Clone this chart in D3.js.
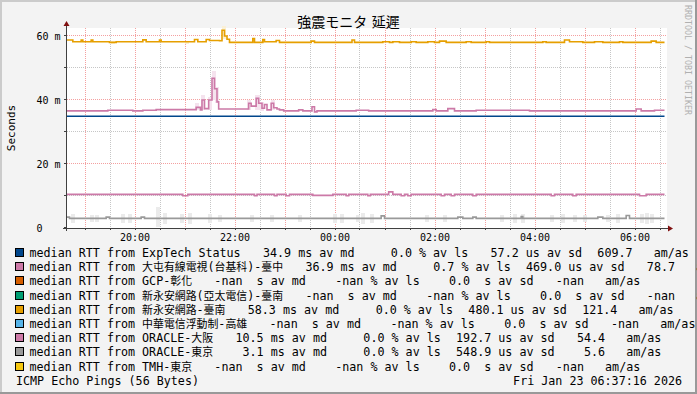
<!DOCTYPE html>
<html>
<head>
<meta charset="utf-8">
<script src="https://cdn.jsdelivr.net/npm/d3@7"></script>
<style>
  body { margin: 0; background: #F3F3F3; }
  svg text { white-space: pre; }
</style>
</head>
<body>
<div id="chart"></div>
<script>
// ---- data ----
const chartTitle = "強震モニタ 延遲";
const yTitle = "Seconds";
const footLeft = "ICMP Echo Pings (56 Bytes)";
const footRight = "Fri Jan 23 06:37:16 2026";
const watermark = "RRDTOOL / TOBI OETIKER";

const timeStart = "18:39";
const timeEnd = "06:39";
const lastSample = "06:36";

const yTicks = [0, 20, 40, 60];
const yTickLabels = ["0   ", "20 m", "40 m", "60 m"];
const yMinorTicks = [10, 30, 50];
const xTickLabels = ["20:00", "22:00", "00:00", "02:00", "04:00", "06:00"];

const hosts = ["ExpTech Status", "大屯有線電視(台基科)-臺中", "GCP-彰化", "新永安網路(亞太電信)-臺南",
  "新永安網路-臺南", "中華電信浮動制-高雄", "ORACLE-大阪", "ORACLE-東京", "TMH-東京"];
const hostColors = ["#00468B", "#CC79A7", "#D55E00", "#009E73", "#E69F00", "#56B4E9", "#CC79A7", "#999999", "#F5C710"];
const avgMedian = [34.9, 36.9, NaN, NaN, 58.3, NaN, 10.5, 3.1, NaN];   // ms
const avgLoss = [0.0, 0.7, NaN, NaN, 0.0, NaN, 0.0, 0.0, NaN];         // %
const avgSdev = [57.2, 469.0, 0, 0, 480.1, 0, 192.7, 548.9, 0];         // us
const avgAmAs = [609.7, 78.7, NaN, NaN, 121.4, NaN, 54.4, 5.6, NaN];

// median RTT step series [clock, ms]
const expTechSteps = [["18:39", 34.9]];
const daitunSteps = [
  ["18:39", 36.6], ["19:28", 36.8], ["19:58", 36.6], ["20:10", 36.8], ["20:26", 37.0], ["21:14", 37.7],
  ["21:19", 36.9], ["21:21", 40.0], ["21:24", 37.3], ["21:29", 40.0], ["21:33", 46.8], ["21:36", 43.5],
  ["21:39", 39.4], ["21:41", 37.2], ["22:17", 39.0], ["22:20", 38.1], ["22:26", 40.5], ["22:29", 39.0],
  ["22:33", 37.4], ["22:36", 38.6], ["22:39", 36.9], ["22:44", 39.0], ["22:47", 37.6], ["22:51", 37.2],
  ["22:54", 36.9], ["22:59", 36.6], ["23:17", 36.9], ["23:22", 36.6], ["23:33", 37.9], ["23:36", 36.3],
  ["23:39", 36.6], ["00:26", 36.8], ["00:41", 36.6], ["01:58", 37.0], ["02:02", 36.6], ["02:16", 37.3],
  ["02:24", 36.6], ["02:50", 36.8], ["03:54", 36.6], ["06:02", 37.2], ["06:08", 36.6], ["06:24", 36.8]
];
const yongAnTainanSteps = [
  ["18:39", 58.75], ["18:46", 58.2], ["18:56", 58.7], ["18:58", 58.2], ["19:08", 58.7], ["19:10", 58.2],
  ["19:30", 58.0], ["19:38", 58.2], ["20:10", 58.8], ["20:14", 58.2], ["20:30", 58.7], ["20:32", 58.2],
  ["21:12", 58.9], ["21:16", 58.2], ["21:26", 58.9], ["21:30", 58.6], ["21:42", 58.5], ["21:45", 61.8],
  ["21:48", 60.0], ["21:51", 59.0], ["21:54", 58.0], ["22:22", 59.2], ["22:24", 58.0], ["22:34", 58.9],
  ["22:36", 58.2], ["22:50", 58.6], ["22:54", 58.0], ["23:32", 58.4], ["23:36", 58.0], ["00:21", 58.75],
  ["00:24", 58.0], ["00:58", 58.2], ["01:06", 58.0], ["01:10", 58.2], ["01:18", 58.0], ["01:32", 58.2],
  ["01:38", 58.0], ["01:52", 58.2], ["02:00", 58.0], ["02:06", 58.4], ["02:14", 58.0], ["02:38", 58.2],
  ["02:44", 58.0], ["03:02", 58.2], ["03:06", 58.0], ["04:10", 58.2], ["04:14", 58.0], ["04:36", 58.75],
  ["04:42", 58.2], ["04:58", 58.0], ["05:12", 58.2], ["05:22", 58.0], ["05:42", 58.2], ["05:46", 58.0],
  ["06:20", 58.4], ["06:26", 58.0]
];
const oracleOsakaSteps = [
  ["18:39", 10.5], ["20:58", 10.1], ["21:04", 10.5], ["22:24", 10.1], ["22:27", 10.5], ["22:48", 10.1],
  ["22:51", 10.5], ["23:02", 10.1], ["23:06", 10.5], ["23:34", 10.2], ["23:58", 10.5], ["00:14", 10.1],
  ["00:17", 10.5], ["00:40", 10.1], ["00:43", 10.5], ["01:05", 11.3], ["01:10", 10.5], ["01:20", 10.1],
  ["01:24", 10.5], ["01:28", 10.1], ["01:32", 10.5], ["02:08", 10.1], ["02:12", 10.5], ["02:20", 10.1],
  ["02:24", 10.5], ["02:46", 10.1], ["02:50", 10.5], ["04:20", 10.1], ["04:24", 10.5], ["04:46", 10.1],
  ["04:50", 10.5], ["06:06", 10.1], ["06:14", 10.5]
];
const oracleTokyoSteps = [
  ["18:39", 3.4], ["18:42", 3.0], ["19:26", 3.4], ["19:30", 3.0], ["20:08", 3.4], ["20:12", 3.0],
  ["00:56", 3.8], ["01:00", 3.0], ["02:28", 3.4], ["02:34", 3.0], ["02:46", 3.4], ["02:50", 3.0],
  ["03:44", 3.6], ["03:46", 3.0], ["05:16", 3.4], ["05:22", 3.0], ["05:50", 3.9], ["05:54", 3.0]
];

// faint smoke blocks [clock, low ms, high ms]
const oracleTokyoSmoke = [
  ["18:44", 1.5, 4.5], ["19:06", 1.8, 4.2], ["19:12", 1.8, 4.2], ["19:44", 1.5, 4.5], ["19:52", 1.5, 4.5],
  ["20:26", 0.3, 6.5], ["20:34", 1.2, 4.8], ["20:54", 1.5, 4.5], ["21:04", 1.2, 4.8], ["21:28", 1.5, 4.5],
  ["21:40", 1.8, 4.2], ["22:18", 2.0, 4.0], ["22:42", 2.0, 4.0], ["23:16", 2.0, 4.0], ["23:58", 1.5, 4.5],
  ["00:06", 1.5, 4.5], ["00:26", 1.8, 4.2], ["00:32", 1.2, 4.8], ["00:42", 1.5, 4.5], ["01:48", 1.8, 4.2],
  ["02:10", 1.8, 4.2], ["03:18", 2.0, 4.0], ["03:34", 1.5, 4.5], ["03:44", 1.5, 4.5], ["04:18", 1.8, 4.2],
  ["04:32", 1.5, 4.5], ["04:46", 1.8, 4.2], ["04:58", 2.0, 4.0], ["05:26", 1.8, 4.2], ["05:38", 1.5, 4.5],
  ["06:06", 1.5, 4.5], ["06:12", 1.2, 4.8], ["06:18", 1.5, 4.5]
];
const daitunSmoke = [
  ["21:12", 36.9, 39.0], ["21:20", 37.0, 41.5], ["21:28", 37.0, 41.0], ["21:33", 40.0, 49.0],
  ["21:36", 39.0, 44.0], ["22:15", 37.0, 40.0], ["22:25", 37.0, 41.5], ["22:30", 36.5, 39.5], ["22:44", 37.0, 40.0]
];
const yongAnTainanSmoke = [["21:45", 59.0, 63.0], ["19:32", 57.5, 58.3], ["21:00", 57.6, 58.3]];

// ---- layout ----
const W = 697, H = 394;
const plot = {left: 67, right: 667, top: 28, bottom: 228};
const monoFont = "'DejaVu Sans Mono', monospace";
const cjkFont = "'Noto Sans CJK TC', 'Noto Sans CJK JP', sans-serif";

const parseClock = s => {
  const [h, m] = s.split(":").map(Number);
  return new Date(2026, 0, h >= 12 ? 22 : 23, h, m);
};

const svg = d3.select("#chart").append("svg")
    .attr("width", W).attr("height", H)
    .style("display", "block");

// background and frame shading
svg.append("rect").attr("width", W).attr("height", H).attr("fill", "#F3F3F3");
svg.append("rect").attr("x", 0).attr("y", 0).attr("width", W).attr("height", 2).attr("fill", "#CBCBCB");
svg.append("rect").attr("x", 0).attr("y", 0).attr("width", 2).attr("height", H).attr("fill", "#CBCBCB");
svg.append("rect").attr("x", 0).attr("y", H - 2).attr("width", W).attr("height", 2).attr("fill", "#999999");
svg.append("rect").attr("x", W - 2).attr("y", 0).attr("width", 2).attr("height", H).attr("fill", "#999999");

const x = d3.scaleTime()
    .domain([parseClock(timeStart), parseClock(timeEnd)])
    .range([plot.left, plot.right]);
const y = d3.scaleLinear()
    .domain([0, 62.5])
    .range([plot.bottom, plot.top]);

// canvas
svg.append("rect")
    .attr("x", plot.left).attr("y", plot.top)
    .attr("width", plot.right - plot.left).attr("height", plot.bottom - plot.top)
    .attr("fill", "#FFFFFF");

const crisp = v => Math.round(v) + 0.5;

// grid
const grid = svg.append("g").attr("shape-rendering", "crispEdges");
const halfHours = d3.timeMinute.every(30).range(x.domain()[0], x.domain()[1]);
const minorTimes = halfHours.filter(d => d.getMinutes() === 30);
const majorTimes = halfHours.filter(d => d.getMinutes() === 0);

grid.selectAll(".vminor").data(minorTimes).join("line")
    .attr("x1", d => crisp(x(d))).attr("x2", d => crisp(x(d)))
    .attr("y1", plot.top).attr("y2", plot.bottom)
    .attr("stroke", "#C6C6C6").attr("stroke-dasharray", "1,1");
grid.selectAll(".hminor").data(yMinorTicks).join("line")
    .attr("x1", plot.left).attr("x2", plot.right)
    .attr("y1", d => crisp(y(d)) - 1).attr("y2", d => crisp(y(d)) - 1)
    .attr("stroke", "#C6C6C6").attr("stroke-dasharray", "1,1");
grid.selectAll(".vmajor").data(majorTimes).join("line")
    .attr("x1", d => crisp(x(d))).attr("x2", d => crisp(x(d)))
    .attr("y1", plot.top).attr("y2", plot.bottom)
    .attr("stroke", "#F4A0A0").attr("stroke-dasharray", "1,1");
grid.selectAll(".hmajor").data(yTicks.slice(1)).join("line")
    .attr("x1", plot.left).attr("x2", plot.right)
    .attr("y1", d => crisp(y(d)) - 1).attr("y2", d => crisp(y(d)) - 1)
    .attr("stroke", "#F4A0A0").attr("stroke-dasharray", "1,1");

// smoke
const smoke = svg.append("g").attr("shape-rendering", "crispEdges");
const drawSmoke = (data, fill) => {
  smoke.append("g").selectAll("rect").data(data).join("rect")
      .attr("x", d => x(parseClock(d[0])))
      .attr("width", d => x(d3.timeMinute.offset(parseClock(d[0]), 5)) - x(parseClock(d[0])))
      .attr("y", d => y(d[2]))
      .attr("height", d => y(d[1]) - y(d[2]))
      .attr("fill", fill);
};
drawSmoke(oracleTokyoSmoke, "#EBEBEB");
drawSmoke(daitunSmoke, "#F5E3EE");
drawSmoke(yongAnTainanSmoke, "#FAF0D6");

// median lines
const line = d3.line()
    .curve(d3.curveStepAfter)
    .x(d => x(d.t))
    .y(d => y(d.v));
const toPoints = steps => {
  const pts = steps.map(d => ({t: parseClock(d[0]), v: d[1]}));
  pts.push({t: parseClock(lastSample), v: steps[steps.length - 1][1]});
  return pts;
};
const seriesList = [
  {steps: oracleTokyoSteps, color: hostColors[7]},
  {steps: oracleOsakaSteps, color: hostColors[6]},
  {steps: expTechSteps, color: hostColors[0]},
  {steps: daitunSteps, color: hostColors[1]},
  {steps: yongAnTainanSteps, color: hostColors[4]}
];
svg.append("g").selectAll("path").data(seriesList).join("path")
    .attr("d", d => line(toPoints(d.steps)))
    .attr("fill", "none")
    .attr("stroke", d => d.color)
    .attr("stroke-width", 1.6);

// axes
const xAxis = d3.axisBottom(x)
    .tickValues(xTickLabels.map(parseClock))
    .tickFormat(d3.timeFormat("%H:%M"))
    .tickSize(0)
    .tickPadding(6);
const xAxisG = svg.append("g").attr("transform", `translate(0,${plot.bottom})`).call(xAxis);
xAxisG.select(".domain").remove();
xAxisG.selectAll("text").style("font-family", monoFont).style("font-size", "10px").attr("fill", "#000");

const yAxis = d3.axisLeft(y)
    .tickValues(yTicks)
    .tickFormat((d, i) => yTickLabels[i])
    .tickSize(0)
    .tickPadding(6.5);
const yAxisG = svg.append("g").attr("transform", `translate(${plot.left},0)`).call(yAxis);
yAxisG.select(".domain").remove();
yAxisG.selectAll("text").style("font-family", monoFont).style("font-size", "10px")
    .attr("fill", "#000").attr("xml:space", "preserve");

const axisColor = "#404040";
const ticks = svg.append("g").attr("shape-rendering", "crispEdges").attr("stroke", axisColor);
ticks.selectAll(".xt").data(halfHours).join("line")
    .attr("x1", d => crisp(x(d))).attr("x2", d => crisp(x(d)))
    .attr("y1", plot.bottom).attr("y2", plot.bottom + 2);
ticks.selectAll(".yt").data(yTicks.concat(yMinorTicks)).join("line")
    .attr("x1", plot.left - 3).attr("x2", plot.left)
    .attr("y1", d => crisp(y(d)) - 1).attr("y2", d => crisp(y(d)) - 1);
ticks.append("line")
    .attr("x1", plot.left - 4).attr("x2", plot.right + 1)
    .attr("y1", plot.bottom + 0.5).attr("y2", plot.bottom + 0.5);
ticks.append("line")
    .attr("x1", plot.left - 0.5).attr("x2", plot.left - 0.5)
    .attr("y1", plot.bottom + 3).attr("y2", plot.top - 4);

// arrows
svg.append("path")
    .attr("d", `M${plot.right + 1},${plot.bottom - 2.5}L${plot.right + 6},${plot.bottom + 0.5}L${plot.right + 1},${plot.bottom + 3.5}Z`)
    .attr("fill", "#801010");
svg.append("path")
    .attr("d", `M${plot.left - 3.5},${plot.top - 2}L${plot.left - 0.5},${plot.top - 7}L${plot.left + 2.5},${plot.top - 2}Z`)
    .attr("fill", "#801010");

// titles
svg.append("text")
    .attr("x", W / 2).attr("y", 26.5)
    .attr("text-anchor", "middle")
    .style("font-family", "'DejaVu Sans', 'Noto Sans CJK JP', sans-serif")
    .style("font-size", "14px")
    .attr("fill", "#000")
    .text(chartTitle);

svg.append("text")
    .attr("transform", `translate(15,${(plot.top + plot.bottom) / 2}) rotate(-90)`)
    .attr("text-anchor", "middle")
    .style("font-family", monoFont).style("font-size", "11px")
    .attr("fill", "#000")
    .text(yTitle);

svg.append("text")
    .attr("transform", "translate(684.5,5) rotate(90)")
    .style("font-family", monoFont).style("font-size", "8.3px")
    .attr("fill", "#B0B0B0")
    .text(watermark);

// legend
const legendGap = 15.3;
const pad5 = v => isNaN(v) ? " -nan" : v.toFixed(1).padStart(5);
const legendItems = i => [
  isNaN(avgMedian[i]) ? " -nan  s av md " : `${pad5(avgMedian[i])} ms av md `,
  `${pad5(avgLoss[i])} % av ls`,
  avgSdev[i] === 0 ? "  0.0  s av sd" : `${pad5(avgSdev[i])} us av sd`,
  `${pad5(avgAmAs[i])}   am/as`
];
const cjkRe = /[\u3000-\u9fff\uff00-\uffef]/;
const splitRuns = s => {
  const runs = [];
  for (const ch of s) {
    const cjk = cjkRe.test(ch);
    if (runs.length && runs[runs.length - 1].cjk === cjk) runs[runs.length - 1].text += ch;
    else runs.push({text: ch, cjk});
  }
  return runs;
};

const legend = svg.append("g");
hosts.forEach((host, i) => {
  const base = 257 + i * 14.2;
  legend.append("rect")
      .attr("x", 15.5).attr("y", base - 8.5)
      .attr("width", 8).attr("height", 8)
      .attr("fill", hostColors[i])
      .attr("stroke", "#000").attr("stroke-width", 1)
      .attr("shape-rendering", "crispEdges");

  let xPos = 29.5;
  const label = legend.append("text").attr("x", xPos).attr("y", base).attr("fill", "#000");
  splitRuns("median RTT from " + host).forEach(run => {
    label.append("tspan")
        .style("font-family", run.cjk ? cjkFont : monoFont)
        .style("font-size", run.cjk ? "10.9px" : "11.7px")
        .text(run.text);
  });
  xPos += label.node().getComputedTextLength() + legendGap;

  legendItems(i).forEach(item => {
    const t = legend.append("text")
        .attr("x", xPos).attr("y", base)
        .attr("xml:space", "preserve")
        .style("font-family", monoFont).style("font-size", "11.7px")
        .attr("fill", "#000")
        .text(item);
    xPos += t.node().getComputedTextLength() + legendGap;
  });
});

const footBase = 257 + 9 * 14.2;
legend.append("text")
    .attr("x", 16).attr("y", footBase)
    .style("font-family", monoFont).style("font-size", "11.7px")
    .attr("fill", "#000")
    .text(footLeft);
legend.append("text")
    .attr("x", 682).attr("y", footBase)
    .attr("text-anchor", "end")
    .style("font-family", monoFont).style("font-size", "11.7px")
    .attr("fill", "#000")
    .text(footRight);
</script>
</body>
</html>
